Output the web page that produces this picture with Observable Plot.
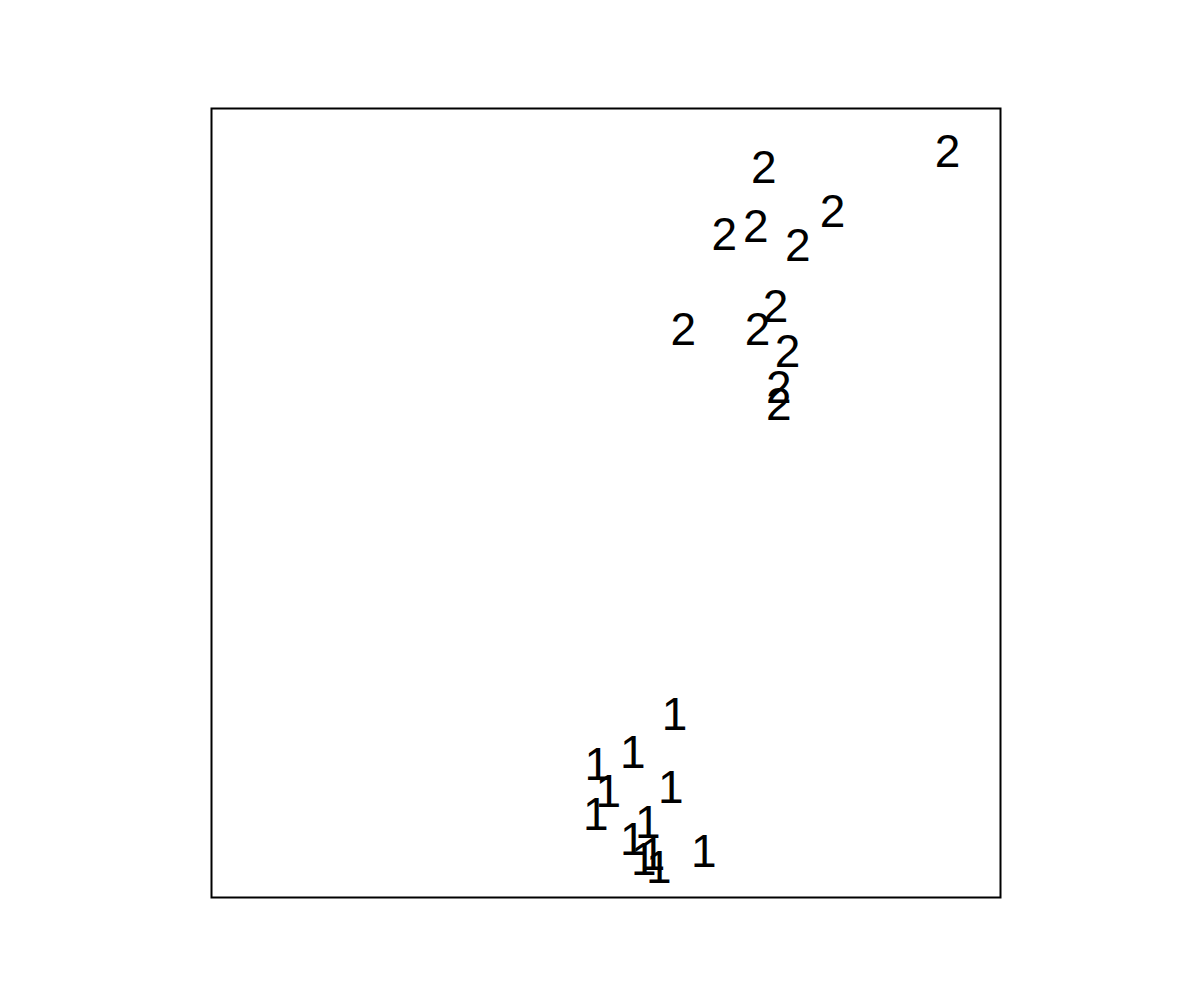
<!DOCTYPE html>
<html>
<head>
<meta charset="utf-8">
<script src="https://cdn.jsdelivr.net/npm/d3@7"></script>
<script src="https://cdn.jsdelivr.net/npm/@observablehq/plot@0.6"></script>
<style>
  html, body { margin: 0; padding: 0; background: #fff; }
  #chart { width: 1200px; height: 1000px; }
</style>
</head>
<body>
<div id="chart"></div>
<script>
// Group labels drawn as the plotting symbol
const groupLabels = ["1", "2"];

// Group 1 points
const group1X = [58.7, 53.4, 48.9, 50.3, 58.2, 48.7, 55.3, 53.4, 62.4, 54.8, 55.9, 56.7];
const group1Y = [23.1, 18.3, 16.7, 13.3, 13.8, 10.4, 9.4, 7.2, 5.7, 4.7, 5.3, 3.7];

// Group 2 points
const group2X = [70.0, 93.3, 65.0, 69.0, 74.3, 78.7, 59.8, 69.2, 71.5, 73.0, 71.9, 71.9];
const group2Y = [92.4, 94.4, 83.9, 85.0, 82.6, 86.8, 71.9, 71.9, 74.8, 69.1, 64.5, 62.4];

const data = [
  ...group1X.map((x, i) => ({x, y: group1Y[i], g: groupLabels[0]})),
  ...group2X.map((x, i) => ({x, y: group2Y[i], g: groupLabels[1]}))
];

const chart = Plot.plot({
  width: 1200,
  height: 1000,
  marginLeft: 211,
  marginRight: 200,
  marginTop: 108,
  marginBottom: 103,
  x: {domain: [0, 100], axis: null},
  y: {domain: [0, 100], axis: null},
  style: {background: "#fff"},
  marks: [
    Plot.frame({stroke: "#000", strokeWidth: 2}),
    Plot.text(data, {
      x: "x", y: "y", text: "g",
      fontSize: 46,
      fontFamily: "Liberation Sans, Arial, Helvetica, sans-serif",
      fill: "#000",
      textAnchor: "middle",
      lineAnchor: "middle"
    })
  ]
});
document.getElementById("chart").appendChild(chart);
</script>
</body>
</html>
